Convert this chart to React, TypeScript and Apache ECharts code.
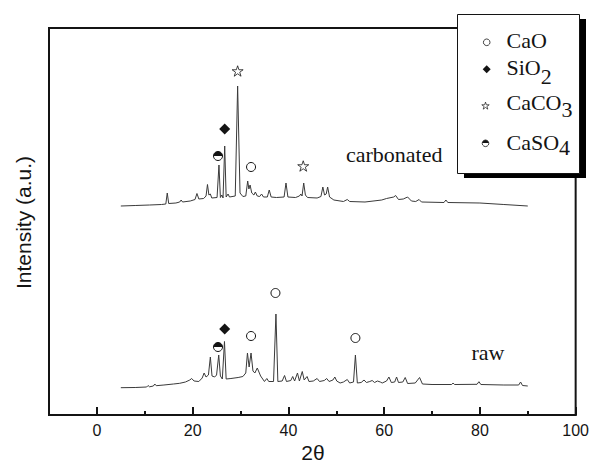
import React, { useEffect, useRef } from 'react';
import * as echarts from 'echarts';

// ---- data (2θ in degrees, intensity in arbitrary units) ----
const xMajorTicks = [0, 20, 40, 60, 80, 100];
const xMinorTicks = [10, 30, 50, 70, 90];

const carbonatedPattern: [number, number][] = [
  [5, 209], [8, 209.5], [11, 210], [13.5, 210.5], [14.4, 211], [14.7, 222], [15.0, 211.5],
  [16.5, 212], [17.3, 213], [17.6, 215], [17.9, 213], [19.5, 214], [20.5, 215.5], [20.9, 221.5],
  [21.3, 216], [22.3, 216.5], [22.8, 219], [23.1, 230.5], [23.4, 220], [23.7, 221], [24.0, 217],
  [25.1, 217.5], [25.5, 250], [25.8, 217.5], [26.1, 220], [26.35, 217], [26.7, 269], [27.0, 218],
  [27.4, 221], [27.7, 218], [28.9, 219], [29.4, 329], [29.9, 222], [30.5, 218.5], [31.1, 219],
  [31.5, 234], [31.75, 226], [32.0, 230], [32.35, 222], [32.8, 220], [33.1, 223], [33.5, 219],
  [34.0, 218.5], [34.4, 221], [34.8, 218], [35.6, 218], [36.0, 225], [36.4, 218], [37.5, 217.5],
  [39.1, 218], [39.5, 232], [39.9, 218], [41.5, 217.5], [42.3, 219], [42.6, 221], [42.85, 219],
  [43.2, 232], [43.55, 220], [44.0, 217.5], [46.0, 217], [46.8, 218.5], [47.2, 228], [47.55, 220],
  [47.9, 221], [48.2, 228], [48.6, 218], [49.5, 215], [51.5, 213.5], [52.3, 215.5], [52.8, 213.5],
  [56, 213], [59.5, 215], [60.5, 216.5], [62.0, 218], [62.4, 219.5], [63.0, 215.5], [64.0, 216],
  [64.9, 218], [65.7, 214], [66.6, 213.5], [67.3, 215.5], [67.8, 213], [72.5, 212.5], [72.9, 215],
  [73.3, 212.5], [80, 212], [85, 210.5], [90, 209],
];

const rawPattern: [number, number][] = [
  [5, 27.3], [8, 27.5], [10.4, 28], [10.7, 29.5], [11.0, 28.2], [11.8, 29], [12.1, 31], [12.4, 29.3],
  [14, 30], [16, 31], [17.3, 31.7], [18.5, 33], [19.4, 35], [19.8, 36.5], [20.3, 34], [21.3, 33.5],
  [22.0, 37], [22.4, 42], [22.8, 38], [23.3, 40], [23.7, 58], [24.05, 39], [24.6, 38], [25.0, 40],
  [25.45, 60], [25.8, 39], [26.2, 36], [26.65, 73.5], [27.0, 36], [28, 36.5], [29.5, 37.5],
  [30.5, 38.5], [31.1, 42], [31.45, 62], [31.8, 48], [32.2, 62], [32.6, 44], [33.0, 42], [33.5, 47],
  [34.2, 39], [35.0, 33.5], [35.5, 36.5], [35.9, 33.5], [36.9, 33.5], [37.4, 101], [37.8, 33.5],
  [38.7, 34], [39.2, 39.5], [39.6, 33.5], [40.5, 34.5], [40.9, 38.5], [41.3, 34], [41.9, 42],
  [42.3, 34], [42.9, 43.5], [43.3, 35], [43.9, 38.5], [44.3, 33.5], [45.2, 34], [46.0, 36.5],
  [46.5, 33.5], [47.5, 34.5], [48.0, 36.5], [48.5, 33.5], [49.3, 35], [49.7, 38], [50.1, 34],
  [50.8, 32], [51.5, 33], [52.3, 35.5], [52.8, 32], [53.6, 33], [54.0, 60], [54.4, 32], [55.2, 32.5],
  [55.8, 35], [56.3, 32.5], [57.0, 33.5], [57.5, 34.5], [58.0, 32.5], [58.6, 34], [59.2, 33],
  [59.6, 32], [60.5, 34], [61.0, 38], [61.5, 32.5], [62.2, 33], [62.6, 38], [63.0, 32.5], [63.9, 33],
  [64.4, 37.5], [64.9, 31.5], [66.5, 32], [67.4, 37.5], [68.0, 31], [70, 30.5], [74.1, 30.5],
  [74.4, 32], [74.7, 30.5], [79.4, 30.7], [79.8, 33.3], [80.2, 30.5], [85, 30], [88.1, 30],
  [88.5, 33], [88.9, 29.5], [90, 29],
];

const caoMarks: [number, number][] = [[32.2, 248], [32.2, 79], [37.3, 122], [54.0, 77]];
const sio2Marks: [number, number][] = [[26.7, 286], [26.7, 86]];
const caco3Marks: [number, number][] = [[29.4, 344], [43.1, 249]];
const caso4Marks: [number, number][] = [[25.3, 259], [25.3, 68]];

const legendNames = ['CaO', 'SiO', 'CaCO', 'CaSO'];
const legendSubs = ['', '2', '3', '4'];
const traceLabels = ['carbonated', 'raw'];

const STAR =
  'path://M50,0 L61.2,34.5 L97.6,34.5 L68.2,55.9 L79.4,90.5 L50,69.1 L20.6,90.5 L31.8,55.9 L2.4,34.5 L38.8,34.5 Z';

const SERIF = "'Liberation Serif', 'Times New Roman', serif";
const SANS = "'Liberation Sans', Arial, sans-serif";
const INK = '#141414';

function halfFill() {
  return new echarts.graphic.LinearGradient(0, 0, 0, 1, [
    { offset: 0, color: INK },
    { offset: 0.5, color: INK },
    { offset: 0.5, color: '#fff' },
    { offset: 1, color: '#fff' },
  ]);
}

function textWidth(t: string, font: string) {
  const c = document.createElement('canvas').getContext('2d');
  if (!c) return t.length * 11;
  c.font = font;
  return c.measureText(t).width;
}

function starPoints(cx: number, cy: number, R: number) {
  const pts: number[][] = [];
  for (let k = 0; k < 10; k++) {
    const r = k % 2 === 0 ? R : R * 0.382;
    const a = (-90 + 36 * k) * (Math.PI / 180);
    pts.push([cx + r * Math.cos(a), cy + r * Math.sin(a)]);
  }
  return pts;
}

function txt(text: string, x: number, y: number, font: string, extra: any = {}) {
  return {
    type: 'text',
    z: 30,
    ...extra,
    style: {
      text,
      x,
      y,
      font,
      fill: INK,
      align: 'left',
      verticalAlign: 'middle',
      textAlign: 'left',
      textVerticalAlign: 'middle',
      ...(extra.style || {}),
    },
  };
}

export default function App() {
  const ref = useRef<HTMLDivElement>(null);

  useEffect(() => {
    if (!ref.current) return;
    const chart = echarts.init(ref.current, null, { renderer: 'svg' });

    const legFont = `22px ${SERIF}`;
    const legX = 506.5;
    const legRowsY = [40, 67.6, 102.6, 142.6];
    const subDy = [0, 8.5, 6.5, 5];
    const symX = [486.7, 486.7, 485.5, 485.5];
    const symY = [42.3, 69.3, 106, 143.3];

    const legendGraphics: any[] = [
      { type: 'rect', z: 20, shape: { x: 464, y: 19, width: 122, height: 159 }, style: { fill: '#000' } },
      {
        type: 'rect', z: 21,
        shape: { x: 457.5, y: 14.5, width: 122, height: 159 },
        style: { fill: '#fff', stroke: INK, lineWidth: 1 },
      },
      {
        type: 'circle', z: 22,
        shape: { cx: symX[0], cy: symY[0], r: 3.3 },
        style: { fill: '#fff', stroke: INK, lineWidth: 0.8 },
      },
      {
        type: 'polygon', z: 22,
        shape: {
          points: [
            [symX[1], symY[1] - 4], [symX[1] + 4, symY[1]],
            [symX[1], symY[1] + 4], [symX[1] - 4, symY[1]],
          ],
        },
        style: { fill: INK },
      },
      {
        type: 'polygon', z: 22,
        shape: { points: starPoints(symX[2], symY[2], 3.9) },
        style: { fill: '#fff', stroke: INK, lineWidth: 0.7 },
      },
      {
        type: 'circle', z: 22,
        shape: { cx: symX[3], cy: symY[3], r: 3.3 },
        style: { fill: halfFill(), stroke: INK, lineWidth: 0.8 },
      },
    ];
    legendNames.forEach((n, i) => {
      legendGraphics.push(txt(n, legX, legRowsY[i], legFont));
      if (legendSubs[i]) {
        const w = textWidth(n, legFont);
        legendGraphics.push(txt(legendSubs[i], legX + w, legRowsY[i] + subDy[i], legFont));
      }
    });

    const option: any = {
      animation: false,
      backgroundColor: '#fff',
      grid: {
        left: 49, top: 28, width: 528, height: 387,
        show: true, borderColor: INK, borderWidth: 2, backgroundColor: 'transparent',
      },
      xAxis: [
        {
          type: 'value', min: -10, max: 100,
          axisLine: { show: true, onZero: false, lineStyle: { color: INK, width: 2 } },
          axisTick: { show: true, inside: true, length: 8, customValues: xMajorTicks, lineStyle: { color: INK, width: 2 } },
          axisLabel: {
            show: true, customValues: xMajorTicks, margin: 7,
            fontSize: 16, fontFamily: SANS, color: INK,
          },
          splitLine: { show: false },
        },
        {
          type: 'value', min: -10, max: 100, position: 'bottom',
          axisLine: { show: false, onZero: false },
          axisTick: { show: true, inside: true, length: 4, customValues: xMinorTicks, lineStyle: { color: INK, width: 2 } },
          axisLabel: { show: false },
          splitLine: { show: false },
        },
      ],
      yAxis: {
        type: 'value', min: 0, max: 387,
        axisLine: { show: true, onZero: false, lineStyle: { color: INK, width: 2 } },
        axisTick: { show: false },
        axisLabel: { show: false },
        splitLine: { show: false },
      },
      series: [
        {
          name: 'carbonated', type: 'line', data: carbonatedPattern, showSymbol: false, symbol: 'none',
          lineStyle: { color: '#3a3a3a', width: 1 }, silent: true, z: 2,
        },
        {
          name: 'raw', type: 'line', data: rawPattern, showSymbol: false, symbol: 'none',
          lineStyle: { color: '#3a3a3a', width: 1 }, silent: true, z: 2,
        },
        {
          name: 'CaO', type: 'scatter', data: caoMarks, symbol: 'circle', symbolSize: 9, z: 5,
          itemStyle: { color: '#fff', borderColor: INK, borderWidth: 1, opacity: 1 },
        },
        {
          name: 'SiO2', type: 'scatter', data: sio2Marks, symbol: 'diamond', symbolSize: 11, z: 5,
          itemStyle: { color: INK, opacity: 1 },
        },
        {
          name: 'CaCO3', type: 'scatter', data: caco3Marks, symbol: STAR, symbolKeepAspect: true, symbolSize: 11, z: 5,
          itemStyle: { color: '#fff', borderColor: INK, borderWidth: 0.8, opacity: 1 },
        },
        {
          name: 'CaSO4', type: 'scatter', data: caso4Marks, symbol: 'circle', symbolSize: 9, z: 5,
          itemStyle: { color: halfFill(), borderColor: INK, borderWidth: 1, opacity: 1 },
        },
      ],
      graphic: [
        txt(traceLabels[0], 346, 154.3, `22px ${SERIF}`),
        txt(traceLabels[1], 471.5, 352.6, `22px ${SERIF}`),
        {
          type: 'text', z: 30, x: 23.3, y: 222.5, rotation: Math.PI / 2,
          style: {
            text: 'Intensity (a.u.)', x: 0, y: 0, font: `21px ${SANS}`, fill: INK,
            align: 'center', verticalAlign: 'middle', textAlign: 'center', textVerticalAlign: 'middle',
          },
        },
        {
          type: 'text', z: 30, x: 313, y: 452,
          style: {
            text: '2θ', x: 0, y: 0, font: `21px ${SANS}`, fill: INK,
            align: 'center', verticalAlign: 'middle', textAlign: 'center', textVerticalAlign: 'middle',
          },
        },
        ...legendGraphics,
      ],
    };

    chart.setOption(option);
    return () => chart.dispose();
  }, []);

  return (
    <div
      ref={ref}
      style={{ position: 'fixed', left: 0, top: 0, width: 592, height: 466, background: '#fff' }}
    />
  );
}
